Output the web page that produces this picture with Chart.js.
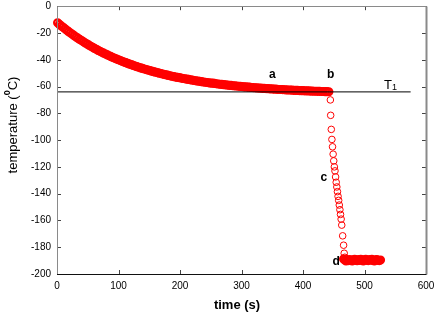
<!DOCTYPE html>
<html>
<head>
<meta charset="utf-8">
<title>cooling curve</title>
<script src="https://cdn.jsdelivr.net/npm/chart.js@4.4.0/dist/chart.umd.min.js"></script>
<style>
  html, body { margin: 0; padding: 0; background: #fff; }
  #wrap { width: 434px; height: 319px; }
</style>
</head>
<body>
<div id="wrap"><canvas id="chart" width="434" height="319"></canvas></div>
<script>
var coolTime = [1,4,7,10,13,16,19,22,25,28,31,34,37,40,43,46,49,52,55,58,61,64,67,70,73,76,79,82,85,88,
  91,94,97,100,103,106,109,112,115,118,121,124,127,130,133,136,139,142,145,148,151,154,157,160,163,166,169,172,175,178,
  181,184,187,190,193,196,199,202,205,208,211,214,217,220,223,226,229,232,235,238,241,244,247,250,253,256,259,262,265,268,
  271,274,277,280,283,286,289,292,295,298,301,304,307,310,313,316,319,322,325,328,331,334,337,340,343,346,349,352,355,358,
  361,364,367,370,373,376,379,382,385,388,391,394,397,400,403,406,409,412,415,418,421,424,427,430,433,436,439,442];
var coolTemp = [-12.4,-13.6,-14.7,-15.8,-16.9,-18.0,-19.0,-20.0,-21.0,-22.0,
  -23.0,-23.9,-24.8,-25.7,-26.6,-27.5,-28.3,-29.1,-29.9,-30.7,
  -31.5,-32.2,-33.0,-33.7,-34.4,-35.1,-35.7,-36.4,-37.0,-37.7,
  -38.3,-38.9,-39.5,-40.0,-40.6,-41.2,-41.7,-42.2,-42.7,-43.3,
  -43.7,-44.2,-44.7,-45.2,-45.6,-46.1,-46.5,-46.9,-47.3,-47.7,
  -48.1,-48.5,-48.9,-49.3,-49.6,-50.0,-50.3,-50.7,-51.0,-51.3,
  -51.7,-52.0,-52.3,-52.6,-52.9,-53.2,-53.4,-53.7,-54.0,-54.2,
  -54.5,-54.7,-55.0,-55.2,-55.5,-55.7,-55.9,-56.1,-56.4,-56.6,
  -56.8,-57.0,-57.2,-57.4,-57.5,-57.7,-57.9,-58.1,-58.3,-58.4,
  -58.6,-58.7,-58.9,-59.1,-59.2,-59.4,-59.5,-59.6,-59.8,-59.9,
  -60.0,-60.2,-60.3,-60.4,-60.5,-60.7,-60.8,-60.9,-61.0,-61.1,
  -61.2,-61.3,-61.4,-61.5,-61.6,-61.7,-61.8,-61.9,-62.0,-62.1,
  -62.2,-62.2,-62.3,-62.4,-62.5,-62.6,-62.6,-62.7,-62.8,-62.9,
  -62.9,-63.0,-63.1,-63.1,-63.2,-63.2,-63.3,-63.4,-63.4,-63.5,
  -63.5,-63.6,-63.6,-63.7,-63.7,-63.8,-63.8,-63.9];

// fast drop b -> d
var dropTime = [444.5,445,446,447,448,449,450,451,452,453,454,455,456,457,458,459,460,461,462,463,464.5,466,467,468];
var dropTemp = [-70,-81.5,-92,-99.5,-105,-110.5,-115.5,-120,-123,-127.5,-131.5,-135,-138.5,-142,-145,-148.5,
  -152,-155.5,-159,-163.5,-171.5,-178.5,-184.5,-187.5];

// plateau at d
var flatTime = [466,468,470,472,474,476,478,480,482,484,486,488,490,492,494,496,498,500,502,504,506,508,510,512,514,516,518,520,522,524,526];
var flatTemp = [-188.8,-189.6,-190.2,-189.4,-190.0,-189.2,-189.8,-190.3,-189.5,-189.0,-189.7,-190.1,-189.3,-189.9,-189.1,
  -189.6,-190.2,-189.4,-189.0,-189.8,-190.0,-189.3,-189.7,-189.1,-189.9,-190.2,-189.5,-189.2,-189.8,-190.0,-189.6];

// T1 level line
var t1Level = -64;
var t1Span = [0, 575];

var xTicks = [0, 100, 200, 300, 400, 500, 600];
var yTicks = [0, -20, -40, -60, -80, -100, -120, -140, -160, -180, -200];

// point labels (data coords)
var tags = [
  { text: 'a', t: 350, T: -51 },
  { text: 'b', t: 445, T: -51 },
  { text: 'c', t: 434, T: -128 },
  { text: 'd', t: 454, T: -191 }
];
var t1Tag = { t: 540, T: -58 };

function pts(xs, ys) {
  return xs.map(function (x, i) { return { x: x, y: ys[i] }; });
}

var FONT = '"Liberation Sans", Arial, sans-serif';
var RED = 'rgb(255,0,0)';

var deco = {
  id: 'deco',
  afterDraw: function (chart) {
    var ctx = chart.ctx, a = chart.chartArea;
    var xs = chart.scales.x, ys = chart.scales.y;
    ctx.save();

    // inward ticks on all four sides
    ctx.lineWidth = 1;
    ctx.strokeStyle = '#444';
    xTicks.forEach(function (v) {
      var px = Math.round(xs.getPixelForValue(v)) + 0.5;
      ctx.beginPath();
      ctx.moveTo(px, a.bottom); ctx.lineTo(px, a.bottom - 4);
      ctx.moveTo(px, a.top); ctx.lineTo(px, a.top + 4);
      ctx.stroke();
    });
    yTicks.forEach(function (v) {
      var py = Math.round(ys.getPixelForValue(v)) + 0.5;
      ctx.beginPath();
      ctx.moveTo(a.left, py); ctx.lineTo(a.left + 4, py);
      ctx.moveTo(a.right, py); ctx.lineTo(a.right - 4, py);
      ctx.stroke();
    });

    // frame
    var l = Math.round(a.left) + 0.5, r = Math.round(a.right) + 0.5;
    var t = Math.round(a.top) + 0.5, b = Math.round(a.bottom) + 0.5;
    ctx.strokeStyle = '#8a8a8a';
    ctx.beginPath(); ctx.moveTo(l, b); ctx.lineTo(l, t); ctx.lineTo(r, t); ctx.stroke();
    ctx.lineWidth = 2;
    ctx.beginPath(); ctx.moveTo(r, t); ctx.lineTo(r, b); ctx.stroke();
    ctx.lineWidth = 1;
    ctx.strokeStyle = '#111';
    ctx.beginPath(); ctx.moveTo(l - 0.5, b); ctx.lineTo(r, b); ctx.stroke();

    // letters a-d
    ctx.fillStyle = '#000';
    ctx.textAlign = 'center';
    ctx.textBaseline = 'middle';
    ctx.font = 'bold 12px ' + FONT;
    tags.forEach(function (g) {
      ctx.fillText(g.text, xs.getPixelForValue(g.t), ys.getPixelForValue(g.T));
    });

    // T1
    var tx = xs.getPixelForValue(t1Tag.t), ty = ys.getPixelForValue(t1Tag.T);
    ctx.font = '13px ' + FONT;
    ctx.textAlign = 'left';
    ctx.textBaseline = 'alphabetic';
    ctx.fillText('T', tx - 5, ty + 5);
    ctx.font = '9px ' + FONT;
    ctx.fillText('1', tx + 3, ty + 6);

    // x title
    ctx.textAlign = 'center';
    ctx.textBaseline = 'middle';
    ctx.font = 'bold 13px ' + FONT;
    ctx.fillText('time (s)', 237, 305);

    // y title with superscript 0
    ctx.translate(13, 125);
    ctx.rotate(-Math.PI / 2);
    ctx.textAlign = 'left';
    var f1 = '13px ' + FONT, f2 = 'bold 9px ' + FONT;
    ctx.font = f1; var w1 = ctx.measureText('temperature (').width, w3 = ctx.measureText('C)').width;
    ctx.font = f2; var w2 = ctx.measureText('0').width;
    var x0 = -(w1 + w2 + w3) / 2;
    ctx.font = f1; ctx.fillText('temperature (', x0, 0);
    ctx.font = f2; ctx.fillText('0', x0 + w1, -5);
    ctx.font = f1; ctx.fillText('C)', x0 + w1 + w2, 0);
    ctx.restore();
  }
};

function noPad(s) {
  s.paddingTop = 0; s.paddingBottom = 0; s.paddingLeft = 0; s.paddingRight = 0;
}

new Chart(document.getElementById('chart'), {
  type: 'scatter',
  data: {
    datasets: [
      {
        label: 'T1',
        data: [{ x: t1Span[0], y: t1Level }, { x: t1Span[1], y: t1Level }],
        showLine: true,
        borderColor: '#000',
        borderWidth: 1,
        pointRadius: 0,
        order: 0
      },
      {
        label: 'cooling',
        data: pts(coolTime, coolTemp),
        pointStyle: 'circle',
        pointRadius: 3.5,
        pointBorderWidth: 2.2,
        borderColor: RED,
        backgroundColor: 'rgba(0,0,0,0)',
        clip: false,
        order: 1
      },
      {
        label: 'drop',
        data: pts(dropTime, dropTemp),
        pointRadius: 3.3,
        pointBorderWidth: 1,
        borderColor: RED,
        backgroundColor: 'rgba(0,0,0,0)',
        clip: false,
        order: 1
      },
      {
        label: 'plateau',
        data: pts(flatTime, flatTemp),
        pointRadius: 3.5,
        pointBorderWidth: 2.2,
        borderColor: RED,
        backgroundColor: 'rgba(0,0,0,0)',
        clip: false,
        order: 1
      }
    ]
  },
  options: {
    responsive: false,
    animation: false,
    devicePixelRatio: 1,
    layout: { padding: { left: 0, right: 8, top: 4, bottom: 0 } },
    plugins: { legend: { display: false }, tooltip: { enabled: false } },
    scales: {
      x: {
        type: 'linear',
        min: 0, max: 600,
        grid: { display: false, drawTicks: false },
        border: { display: false },
        afterBuildTicks: function (s) { s.ticks = xTicks.map(function (v) { return { value: v }; }); },
        afterFit: function (s) { s.height = 45; noPad(s); },
        ticks: { color: '#000', padding: 6, maxRotation: 0, autoSkip: false, font: { family: FONT, size: 10 } }
      },
      y: {
        type: 'linear',
        min: -200, max: 0,
        grid: { display: false, drawTicks: false },
        border: { display: false },
        afterBuildTicks: function (s) { s.ticks = yTicks.map(function (v) { return { value: v }; }); },
        afterFit: function (s) { s.width = 57; noPad(s); },
        ticks: { color: '#000', padding: 6, autoSkip: false, font: { family: FONT, size: 10 } }
      }
    }
  },
  plugins: [deco]
});
</script>
</body>
</html>
